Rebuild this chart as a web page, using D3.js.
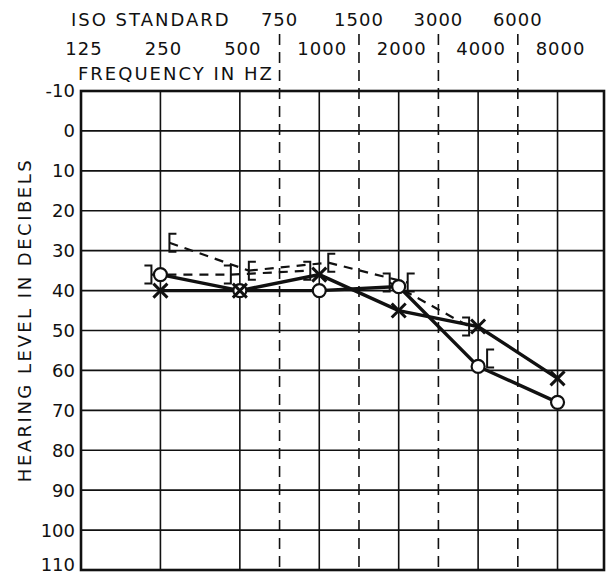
<!DOCTYPE html>
<html>
<head>
<meta charset="utf-8">
<script src="https://cdn.jsdelivr.net/npm/d3@7"></script>
<style>
  body { margin: 0; background: #fff; }
  text { font-family: "DejaVu Sans", sans-serif; fill: #111; }
</style>
</head>
<body>
<svg id="chart" width="611" height="577"></svg>
<script>
// audiogram values
var octaveFreqs = [125, 250, 500, 1000, 2000, 4000, 8000];
var halfOctaveLabels = ["750", "1500", "3000", "6000"];
var dbTicks = [-10, 0, 10, 20, 30, 40, 50, 60, 70, 80, 90, 100, 110];

var plotFreqs = [250, 500, 1000, 2000, 4000, 8000];
var rightAir = [36, 40, 40, 39, 59, 68];   // O
var leftAir = [40, 40, 36, 45, 49, 62];    // X

var boneFreqs = [250, 500, 1000, 2000, 4000];
var rightBone = [36, 36, 35, 38, 49];      // ]
var leftBone = [28, 35, 33, 38, 57];       // [
// which dashed segments (point i to i+1) are drawn
var rightBoneJoin = [1, 1, 0, 1];
var leftBoneJoin = [1, 1, 1, 0];

var svg = d3.select("#chart");

var x = d3.scaleLog().base(2).domain([125, 12000]).range([81, 604]);
var y = d3.scaleLinear().domain([-10, 110]).range([91, 570]);

// half-octave lines sit midway between octaves
var halfFreqs = [500, 1000, 2000, 4000].map(function (f) { return f * Math.SQRT2; });

// horizontal grid
svg.append("g").selectAll("line")
    .data(dbTicks.slice(1, -1))
    .enter().append("line")
    .attr("x1", x(125)).attr("x2", x(12000))
    .attr("y1", function (d) { return y(d); })
    .attr("y2", function (d) { return y(d); })
    .attr("stroke", "#111").attr("stroke-width", 1.6);

// solid octave lines
svg.append("g").selectAll("line")
    .data(octaveFreqs.slice(1))
    .enter().append("line")
    .attr("x1", function (d) { return x(d); })
    .attr("x2", function (d) { return x(d); })
    .attr("y1", y(-10)).attr("y2", y(110))
    .attr("stroke", "#111").attr("stroke-width", 1.6);

// dashed half-octave lines, running up into the header
svg.append("g").selectAll("line")
    .data(halfFreqs)
    .enter().append("line")
    .attr("x1", function (d) { return x(d); })
    .attr("x2", function (d) { return x(d); })
    .attr("y1", 34).attr("y2", y(110))
    .attr("stroke", "#111").attr("stroke-width", 1.6)
    .attr("stroke-dasharray", "11,7");

// border
svg.append("rect")
    .attr("x", x(125)).attr("y", y(-10))
    .attr("width", x(12000) - x(125)).attr("height", y(110) - y(-10))
    .attr("fill", "none").attr("stroke", "#111").attr("stroke-width", 2.6);

// header text
var head = svg.append("g").style("font-size", "18px").style("letter-spacing", "1px");
head.append("text").attr("x", 71).attr("y", 26)
    .style("letter-spacing", "2px").text("ISO  STANDARD");
head.selectAll(".iso").data(halfOctaveLabels).enter().append("text")
    .attr("x", function (d, i) { return x(halfFreqs[i]); })
    .attr("y", 26).attr("text-anchor", "middle").text(function (d) { return d; });
head.selectAll(".oct").data(octaveFreqs).enter().append("text")
    .attr("x", function (d) { return x(d) + 3; })
    .attr("y", 55).attr("text-anchor", "middle").text(function (d) { return d; });
head.append("text").attr("x", 78).attr("y", 80)
    .style("letter-spacing", "2px").text("FREQUENCY  IN HZ");

// y axis labels (last one nudged up so it stays on the page)
svg.append("g").selectAll("text")
    .data(dbTicks)
    .enter().append("text")
    .attr("x", 75).attr("y", function (d) { return Math.min(y(d), 565); })
    .attr("dy", "0.36em").attr("text-anchor", "end")
    .style("font-size", "18px")
    .text(function (d) { return d; });

svg.append("text")
    .attr("transform", "translate(31,320) rotate(-90)")
    .attr("text-anchor", "middle")
    .style("font-size", "18px").style("letter-spacing", "2.5px")
    .text("HEARING  LEVEL  IN  DECIBELS");

// bone conduction, dashed
var rOff = -9, lOff = 9;
var rbPts = boneFreqs.map(function (f, i) { return [f, rightBone[i], rOff]; });
var lbPts = boneFreqs.map(function (f, i) { return [f, leftBone[i], lOff]; });

function boneSegments(pts, join) {
    var segs = [];
    join.forEach(function (j, i) {
        if (j) segs.push([pts[i], pts[i + 1]]);
    });
    return segs;
}
var bl = svg.append("g");
bl.selectAll(null)
    .data(boneSegments(rbPts, rightBoneJoin).concat(boneSegments(lbPts, leftBoneJoin)))
    .enter().append("line")
    .attr("x1", function (d) { return x(d[0][0]) + d[0][2]; })
    .attr("y1", function (d) { return y(d[0][1]); })
    .attr("x2", function (d) { return x(d[1][0]) + d[1][2]; })
    .attr("y2", function (d) { return y(d[1][1]); })
    .attr("stroke", "#111").attr("stroke-width", 2.2)
    .attr("stroke-dasharray", "9,7");

function bracket(sel, pts, dir) {
    // dir -1 draws "]", +1 draws "["
    sel.selectAll(null).data(pts).enter().append("path")
        .attr("d", function (d) {
            var bx = x(d[0]) + d[2], by = y(d[1]);
            return "M" + (bx + dir * 7) + "," + (by - 9) +
                "H" + bx + "V" + (by + 9) + "H" + (bx + dir * 7);
        })
        .attr("fill", "none").attr("stroke", "#111").attr("stroke-width", 2);
}
var bg = svg.append("g");
bracket(bg, rbPts, -1);
bracket(bg, lbPts, 1);

// air conduction, solid
var airLine = d3.line()
    .x(function (d) { return x(d[0]); })
    .y(function (d) { return y(d[1]); });
var raPts = plotFreqs.map(function (f, i) { return [f, rightAir[i]]; });
var laPts = plotFreqs.map(function (f, i) { return [f, leftAir[i]]; });

svg.append("path").attr("d", airLine(laPts))
    .attr("fill", "none").attr("stroke", "#111").attr("stroke-width", 3.4);
svg.append("path").attr("d", airLine(raPts))
    .attr("fill", "none").attr("stroke", "#111").attr("stroke-width", 3.4);

svg.append("g").selectAll("circle")
    .data(raPts).enter().append("circle")
    .attr("cx", function (d) { return x(d[0]); })
    .attr("cy", function (d) { return y(d[1]); })
    .attr("r", 6.5)
    .attr("fill", "#fff").attr("stroke", "#111").attr("stroke-width", 2.2);

svg.append("g").selectAll("path")
    .data(laPts).enter().append("path")
    .attr("d", function (d) {
        var cx = x(d[0]), cy = y(d[1]), s = 7;
        return "M" + (cx - s) + "," + (cy - s) + "L" + (cx + s) + "," + (cy + s) +
            "M" + (cx - s) + "," + (cy + s) + "L" + (cx + s) + "," + (cy - s);
    })
    .attr("stroke", "#111").attr("stroke-width", 3);
</script>
</body>
</html>
